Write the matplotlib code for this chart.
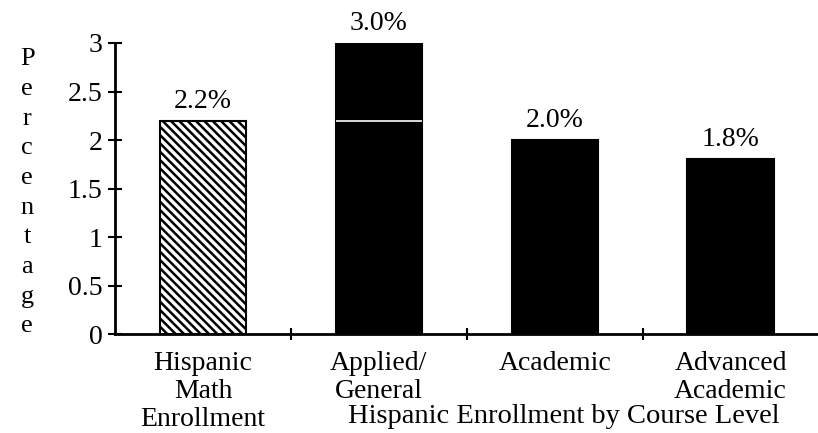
import matplotlib.pyplot as plt
import numpy as np

categories = ['Hispanic\nMath\nEnrollment', 'Applied/\nGeneral', 'Academic', 'Advanced\nAcademic']
values = [2.2, 3.0, 2.0, 1.8]
value_labels = ['2.2%', '3.0%', '2.0%', '1.8%']
hatches = ['\\\\\\\\', '', '', '']
facecolors = ['white', 'black', 'black', 'black']
group_label = 'Hispanic Enrollment by Course Level'
ylabel = 'Percentage'

plt.rcParams['font.family'] = ['Liberation Serif', 'DejaVu Serif']
plt.rcParams['hatch.linewidth'] = 1.8

fig = plt.figure(figsize=(8.18, 4.33), dpi=100)
ax = fig.add_axes([0.1406, 0.2286, 0.86, 0.6721])

x = np.arange(len(categories))
width = 0.49
bars = ax.bar(x, values, width, color=facecolors, edgecolor='black',
              linewidth=1.5, hatch=hatches)

# white seam across the second bar at the first bar's level
ax.hlines(values[0], x[1] - width / 2, x[1] + width / 2, color='white', lw=1.2)

for xi, v, lab in zip(x, values, value_labels):
    ax.annotate(lab, (xi, v), xytext=(0, 5), textcoords='offset points',
                ha='center', va='bottom', fontsize=20)

ax.set_xlim(-0.5, 3.5)
ax.set_ylim(0, 3)
ax.set_yticks(np.arange(0, 3.01, 0.5))
ax.set_yticklabels(['0', '0.5', '1', '1.5', '2', '2.5', '3'])
ax.set_xticks(x)
ax.set_xticklabels(categories, linespacing=1.16)
ax.set_xticks(x[:-1] + 0.5, minor=True)

ax.tick_params(axis='y', direction='inout', length=10, width=1.5, labelsize=20, pad=4)
ax.tick_params(axis='x', which='major', length=0, labelsize=20, pad=12)
ax.tick_params(axis='x', which='minor', direction='inout', length=8, width=1.5)

for s in ['top', 'right']:
    ax.spines[s].set_visible(False)
ax.spines['left'].set_linewidth(2)
ax.spines['bottom'].set_linewidth(2)

ax.set_ylabel('\n'.join(ylabel), rotation=0, fontsize=19, linespacing=1.45,
              va='center', ha='center')
ax.yaxis.set_label_coords(-0.125, 0.485)

ax.text(2.05, -0.285, group_label, transform=ax.get_xaxis_transform(),
        ha='center', va='center', fontsize=20.5)

fig.savefig('out.png', dpi=100)
